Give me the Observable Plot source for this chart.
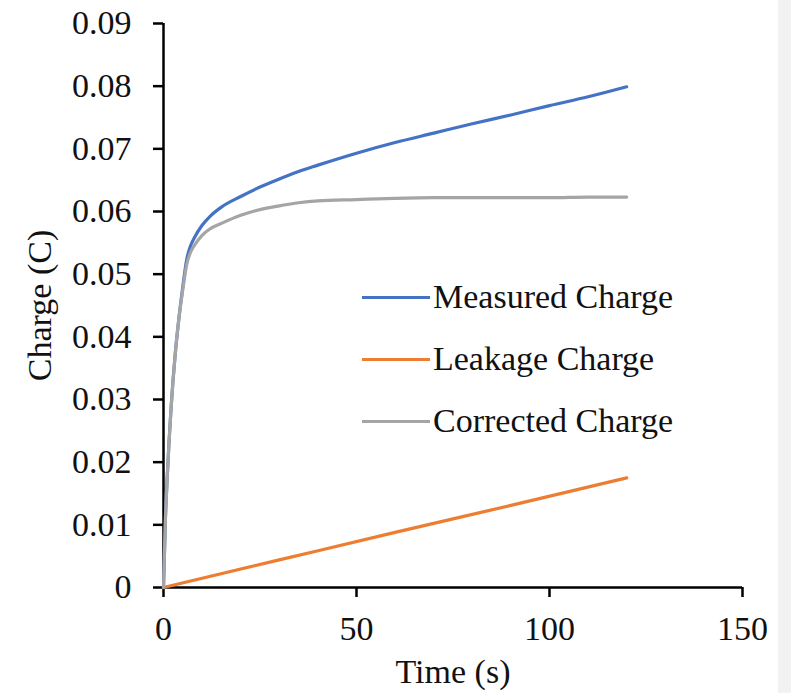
<!DOCTYPE html>
<html>
<head>
<meta charset="utf-8">
<script src="https://cdn.jsdelivr.net/npm/d3@7"></script>
<script src="https://cdn.jsdelivr.net/npm/@observablehq/plot@0.6"></script>
<style>
  html, body { margin: 0; padding: 0; background: #ffffff; }
  #wrap { position: relative; width: 791px; height: 693px; overflow: hidden; }
  #strip { position: absolute; right: 0; top: 0; width: 13px; height: 693px; background: #f2f2f2; }
  #legend { position: absolute; left: 362px; top: 266px; font-family: "Liberation Serif", "Tinos", "DejaVu Serif", "Times New Roman", serif; font-size: 34px; color: #111; }
  .item { display: flex; align-items: center; height: 62px; }
  .swatch { width: 68px; height: 3px; margin-right: 3px; }
</style>
</head>
<body>
<div id="wrap">
  <div id="chart"></div>
  <div id="legend"></div>
  <div id="strip"></div>
</div>
<script>
// ---- data ----
const time = [0, 0.5, 1, 2, 3, 4, 5, 6, 7, 8, 10, 12, 15, 20, 25, 30, 35, 40, 50, 60, 70, 80, 90, 100, 110, 120];
const measured = [0, 0.011, 0.018, 0.029, 0.037, 0.043, 0.048, 0.0523, 0.0545, 0.0558, 0.0578, 0.0592, 0.0607, 0.0624, 0.0639, 0.0652, 0.0664, 0.0674, 0.0693, 0.0710, 0.0725, 0.0740, 0.0754, 0.0769, 0.0783, 0.0799];
const corrected = [0, 0.011, 0.018, 0.029, 0.037, 0.043, 0.0475, 0.0515, 0.0535, 0.0546, 0.0562, 0.0572, 0.0581, 0.0594, 0.0603, 0.0609, 0.0614, 0.0617, 0.0619, 0.0621, 0.0622, 0.0622, 0.0622, 0.0622, 0.0623, 0.0623];
const leakageTime = [0, 30, 60, 90, 120];
const leakage = [0, 0.0044, 0.0088, 0.0131, 0.0175];
const seriesNames = ["Measured Charge", "Leakage Charge", "Corrected Charge"];
const seriesColors = ["#4472C4", "#ED7D31", "#A5A5A5"];
const xTicks = [0, 50, 100, 150];
const yTicks = [0, 0.01, 0.02, 0.03, 0.04, 0.05, 0.06, 0.07, 0.08, 0.09];

const toRows = (ts, vs, name) => ts.map((t, i) => ({t, v: vs[i], name}));
const rows = [
  ...toRows(time, measured, seriesNames[0]),
  ...toRows(leakageTime, leakage, seriesNames[1]),
  ...toRows(time, corrected, seriesNames[2])
];

const font = '"Liberation Serif", "Tinos", "DejaVu Serif", "Times New Roman", serif';

const chart = Plot.plot({
  width: 791,
  height: 693,
  marginLeft: 163,
  marginRight: 49,
  marginTop: 23,
  marginBottom: 106,
  style: { fontFamily: font, fontSize: "34px", color: "#111", background: "transparent", overflow: "visible" },
  x: { domain: [0, 150] },
  y: { domain: [0, 0.09] },
  color: { domain: seriesNames, range: seriesColors },
  marks: [
    Plot.axisY({
      ticks: yTicks, tickSize: 10, tickPadding: 22, strokeWidth: 2.5, stroke: "#000",
      tickFormat: d => d === 0 ? "0" : d.toFixed(2),
      label: null, fontSize: 34, fontFamily: font
    }),
    Plot.axisX({
      ticks: xTicks, tickSize: 10, tickPadding: 18, strokeWidth: 2.5, stroke: "#000",
      tickFormat: d => String(d), label: null, fontSize: 34, fontFamily: font
    }),
    Plot.ruleX([0], { stroke: "#000", strokeWidth: 2.5 }),
    Plot.ruleY([0], { stroke: "#000", strokeWidth: 2.5 }),
    Plot.line(rows, {
      x: "t", y: "v", z: "name", stroke: "name",
      strokeWidth: 3.2, curve: "monotone-x"
    }),
    Plot.text(["Charge (C)"], {
      frameAnchor: "left", textAnchor: "middle", dx: -123, rotate: -90,
      fontSize: 34, fontFamily: font, fill: "#111", text: d => d
    }),
    Plot.text(["Time (s)"], {
      frameAnchor: "bottom", dy: 95, fontSize: 34, fontFamily: font, fill: "#111", text: d => d
    })
  ]
});
document.getElementById("chart").appendChild(chart);

const legend = document.getElementById("legend");
seriesNames.forEach((name, i) => {
  const item = document.createElement("div");
  item.className = "item";
  const sw = document.createElement("span");
  sw.className = "swatch";
  sw.style.background = seriesColors[i];
  const label = document.createElement("span");
  label.textContent = name;
  item.appendChild(sw);
  item.appendChild(label);
  legend.appendChild(item);
});
</script>
</body>
</html>
